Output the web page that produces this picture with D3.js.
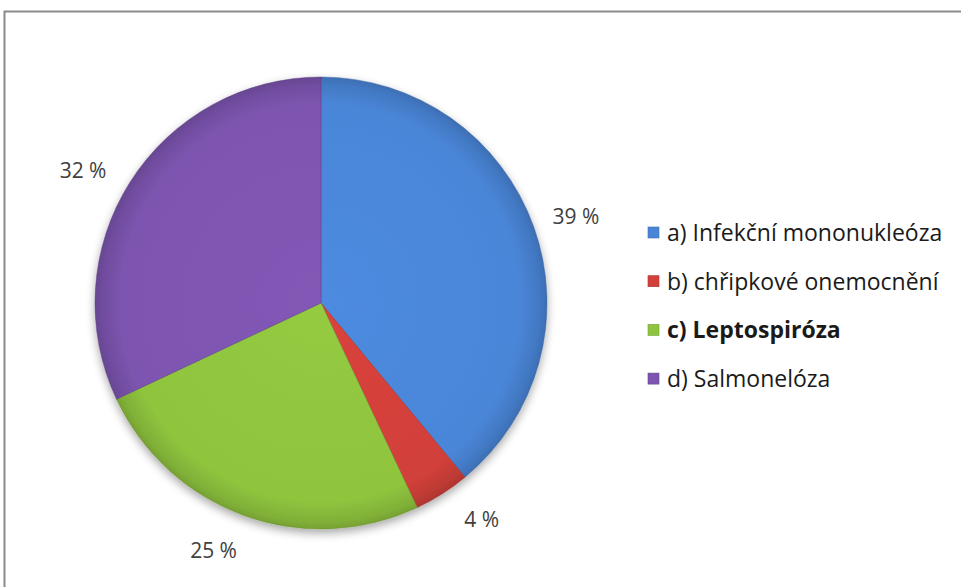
<!DOCTYPE html>
<html>
<head>
<meta charset="utf-8">
<script src="https://cdn.jsdelivr.net/npm/d3@7"></script>
<style>
  html, body { margin: 0; padding: 0; background: #fff; }
  svg { display: block; }
</style>
</head>
<body>
<svg id="chart" width="961" height="587"></svg>
<script>
// Disease categories and their shares (percent)
const categories = [
  "a) Infekční mononukleóza",
  "b) chřipkové onemocnění",
  "c) Leptospiróza",
  "d) Salmonelóza"
];
const values = [39, 4, 25, 32];
const colors = ["#4a86d8", "#d2403a", "#8fc43e", "#7d55b0"];
const boldLegend = [false, false, true, false];

// Small label nudges (layout only), px
const labelNudge = [[1, 4], [16, -12], [-16, -7], [-10, 12]];

const svg = d3.select("#chart");
const W = 961, H = 587;
const cx = 321, cy = 303, R = 226;
const font = "'Open Sans', sans-serif";

const defs = svg.append("defs");

// Soft shadow under the pie
const shadow = defs.append("filter").attr("id", "pieShadow")
  .attr("x", "-20%").attr("y", "-20%").attr("width", "140%").attr("height", "140%");
shadow.append("feGaussianBlur").attr("in", "SourceAlpha").attr("stdDeviation", 5).attr("result", "b");
shadow.append("feOffset").attr("in", "b").attr("dx", 0).attr("dy", 4).attr("result", "o");
shadow.append("feComponentTransfer").attr("in", "o").attr("result", "s")
  .append("feFuncA").attr("type", "linear").attr("slope", 0.35);
const mg = shadow.append("feMerge");
mg.append("feMergeNode").attr("in", "s");
mg.append("feMergeNode").attr("in", "SourceGraphic");

// Radial shading per slice (slightly darker rim), in the pie group's own coordinates
colors.forEach((c, i) => {
  const g = defs.append("radialGradient").attr("id", "grad" + i)
    .attr("gradientUnits", "userSpaceOnUse")
    .attr("cx", 0).attr("cy", 0).attr("r", R);
  const base = d3.color(c);
  g.append("stop").attr("offset", "0%").attr("stop-color", base.brighter(0.1));
  g.append("stop").attr("offset", "88%").attr("stop-color", base);
  g.append("stop").attr("offset", "97%").attr("stop-color", base.darker(0.3));
  g.append("stop").attr("offset", "100%").attr("stop-color", base.darker(0.55));
});

// Frame (top and left edges visible)
svg.append("path")
  .attr("d", `M4.5,${H} L4.5,11.5 L${W},11.5`)
  .attr("fill", "none").attr("stroke", "#8a8a8a").attr("stroke-width", 2);

const pie = d3.pie().sort(null).value(d => d);
const arcs = pie(values);
const arc = d3.arc().innerRadius(0).outerRadius(R);

const pieG = svg.append("g").attr("transform", `translate(${cx},${cy})`)
  .attr("filter", "url(#pieShadow)");
pieG.selectAll("path.slice").data(arcs).enter().append("path")
  .attr("class", "slice")
  .attr("d", arc)
  .attr("fill", (d, i) => `url(#grad${i})`)
  .attr("stroke", (d, i) => d3.color(colors[i]).darker(0.8))
  .attr("stroke-width", 0.8)
  .attr("stroke-opacity", 0.6);

// Percent labels outside the pie
const labelArc = d3.arc().innerRadius(270).outerRadius(270);
svg.append("g").attr("transform", `translate(${cx},${cy})`)
  .selectAll("text").data(arcs).enter().append("text")
  .attr("x", (d, i) => labelArc.centroid(d)[0] + labelNudge[i][0])
  .attr("y", (d, i) => labelArc.centroid(d)[1] + labelNudge[i][1])
  .attr("text-anchor", "middle")
  .attr("dominant-baseline", "central")
  .attr("font-family", font)
  .attr("font-size", 21)
  .attr("fill", "#404040")
  .text(d => `${d.data} %`);

// Legend
const legend = svg.append("g").attr("transform", "translate(648,232)");
const rowH = 48.7;
const items = legend.selectAll("g").data(categories).enter().append("g")
  .attr("transform", (d, i) => `translate(0,${i * rowH})`);
items.append("rect")
  .attr("x", 0).attr("y", -5).attr("width", 11).attr("height", 11)
  .attr("fill", (d, i) => colors[i])
  .attr("stroke", (d, i) => d3.color(colors[i]).darker(0.6))
  .attr("stroke-width", 0.6);
items.append("text")
  .attr("x", 19).attr("y", 0)
  .attr("dominant-baseline", "central")
  .attr("font-family", font)
  .attr("font-size", 23)
  .attr("font-weight", (d, i) => boldLegend[i] ? "bold" : "normal")
  .attr("fill", "#1a1a1a")
  .text(d => d);
</script>
</body>
</html>
